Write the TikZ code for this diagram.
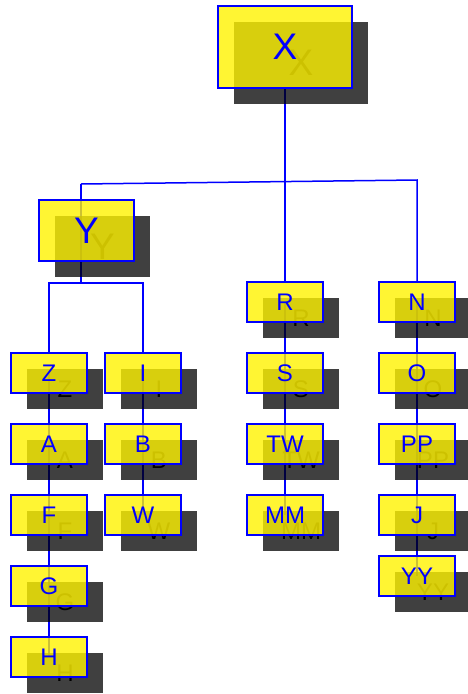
\documentclass[tikz,border=0pt]{standalone}
\usepackage{fontspec}
\setmainfont{Liberation Sans}
\usetikzlibrary{backgrounds}
\tikzset{
  shadowbox/.style={fill=black, fill opacity=0.75, text opacity=1, text=black, inner sep=0pt, draw=none},
  treebox/.style={fill=yellow, fill opacity=0.8, draw=blue, draw opacity=1, line width=1.5pt, text=blue, text opacity=1, inner sep=0pt},
  smallbox/.style={minimum width=76pt, minimum height=40pt, font=\fontsize{24}{24}\selectfont},
  bigbox/.style={font=\fontsize{37}{37}\selectfont},
  link/.style={draw=blue, line width=1.5pt}
}
% name, x, y, size style, text
\newcommand\treenode[5]{%
  \node[shadowbox,#4] at ([shift={(16,16)}]#2,#3) {#5};
  \node[treebox,#4] (#1) at (#2,#3) {#5};
}
\begin{document}
\begin{tikzpicture}[x=1pt,y=-1pt]
\useasboundingbox (0,0) rectangle (468,694);
% nodes
\treenode{X}{285}{47}{bigbox,minimum width=134pt,minimum height=82pt}{X}
\treenode{Y}{86.5}{230.5}{bigbox,minimum width=95pt,minimum height=61pt}{Y}
\treenode{R}{285}{302}{smallbox}{R}
\treenode{N}{417}{302}{smallbox}{N}
\treenode{Z}{49}{373}{smallbox}{Z}
\treenode{I}{143}{373}{smallbox}{I}
\treenode{S}{285}{373}{smallbox}{S}
\treenode{O}{417}{373}{smallbox}{O}
\treenode{A}{49}{444}{smallbox}{A}
\treenode{B}{143}{444}{smallbox}{B}
\treenode{TW}{285}{444}{smallbox}{TW}
\treenode{PP}{417}{444}{smallbox}{PP}
\treenode{F}{49}{515}{smallbox}{F}
\treenode{W}{143}{515}{smallbox}{W}
\treenode{MM}{285}{515}{smallbox}{MM}
\treenode{J}{417}{515}{smallbox}{J}
\treenode{YY}{417}{576}{smallbox}{YY}
\treenode{G}{49}{586}{smallbox}{G}
\treenode{H}{49}{657}{smallbox}{H}
% connector anchors
\coordinate (jl) at (81,184);
\coordinate (jr) at (417,180);
\coordinate (yb) at (81,283);
% connectors (under the boxes and shadows)
\begin{pgfonlayer}{background}
\draw[link] (X.south) -- (R.north);
\draw[link] (jl) -- (jr) -- (N.north);
\draw[link] (jl) -- (yb);
\draw[link] (Z.north) |- (yb) -| (I.north);
\draw[link] (Z.center) -- (A.center) -- (F.center) -- (G.center) -- (H.center);
\draw[link] (I.center) -- (B.center) -- (W.center);
\draw[link] (R.center) -- (S.center) -- (TW.center) -- (MM.center);
\draw[link] (N.center) -- (O.center) -- (PP.center) -- (J.center) -- (YY.center);
\end{pgfonlayer}
\end{tikzpicture}
\end{document}
